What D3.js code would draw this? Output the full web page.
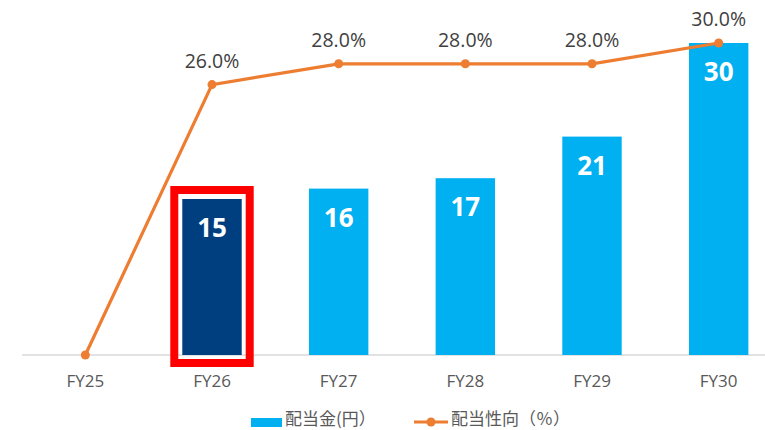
<!DOCTYPE html>
<html><head><meta charset="utf-8">
<script src="https://cdn.jsdelivr.net/npm/d3@7"></script>
<style>body{margin:0;background:#fff}svg{display:block;font-family:"Open Sans","Noto Sans CJK JP",sans-serif}</style>
</head><body><svg id="c" width="765" height="430"></svg>
<script>
const categories = ["FY25","FY26","FY27","FY28","FY29","FY30"];
const dividends = [null,15,16,17,21,30];
const payoutRatio = [0,26.0,28.0,28.0,28.0,30.0];
const highlightIndex = 1;
const legendLabels = ["配当金(円）","配当性向（％）"];

const svg = d3.select("#c");
const x = d3.scaleBand().domain(categories).range([22,782]).paddingInner(0.531).paddingOuter(0.2655);
const y = d3.scaleLinear().domain([0,30]).range([355,43]);

// axis
const xAxis = d3.axisBottom(x).tickSize(0).tickPadding(0);
const ax = svg.append("g").attr("transform","translate(0,355)").call(xAxis)
  .attr("font-size",null).attr("font-family",null);
ax.select(".domain").attr("stroke","#d9d9d9").attr("stroke-width",1.5).attr("d","M22,0H765");
ax.selectAll("text").style("font-size","17px").style("font-family","'Open Sans',sans-serif")
  .attr("fill","#595959").attr("dy",0).attr("y",32);

// bars
const barData = categories.map((c,i)=>({c,v:dividends[i],i})).filter(d=>d.v!=null);
svg.selectAll("rect.bar").data(barData).join("rect").attr("class","bar")
  .attr("x",d=>x(d.c)).attr("width",x.bandwidth())
  .attr("y",d=>y(d.v)).attr("height",d=>y(0)-y(d.v))
  .attr("fill",d=>d.i===highlightIndex?"#003f7f":"#00b0f0");

// highlight frame
const hc = categories[highlightIndex];
svg.append("rect").attr("x",x(hc)-8).attr("y",y(dividends[highlightIndex])-9)
  .attr("width",x.bandwidth()+16).attr("height",y(0)-y(dividends[highlightIndex])+17)
  .attr("fill","none").attr("stroke","#ff0000").attr("stroke-width",8);

// bar labels
svg.selectAll("text.bl").data(barData).join("text").attr("class","bl")
  .attr("x",d=>x(d.c)+x.bandwidth()/2).attr("y",d=>y(d.v)+38)
  .attr("text-anchor","middle").attr("fill","#fff").attr("font-weight","bold").attr("font-size",26)
  .text(d=>d.v);

// line
const cx = c=>x(c)+x.bandwidth()/2;
const lineData = categories.map((c,i)=>({c,v:payoutRatio[i]}));
svg.append("path").datum(lineData).attr("fill","none").attr("stroke","#ed7d31").attr("stroke-width",3.2)
  .attr("d",d3.line().x(d=>cx(d.c)).y(d=>y(d.v)));
svg.selectAll("circle.pt").data(lineData).join("circle").attr("class","pt")
  .attr("cx",d=>cx(d.c)).attr("cy",d=>y(d.v)).attr("r",4.5).attr("fill","#ed7d31");
svg.selectAll("text.ll").data(lineData.filter(d=>d.v>0)).join("text").attr("class","ll")
  .attr("x",d=>cx(d.c)).attr("y",d=>y(d.v)-17)
  .attr("text-anchor","middle").attr("fill","#404040").attr("font-size",19.5)
  .text(d=>d.v.toFixed(1)+"%");

// legend
const lg = svg.append("g");
lg.append("rect").attr("x",251).attr("y",418).attr("width",31).attr("height",9).attr("fill","#00b0f0");
lg.append("text").attr("x",285).attr("y",425).attr("font-size",17).attr("fill","#595959")
  .attr("font-family","'Noto Sans CJK JP',sans-serif").text(legendLabels[0]);
lg.append("line").attr("x1",414).attr("x2",448).attr("y1",422).attr("y2",422).attr("stroke","#ed7d31").attr("stroke-width",3.2);
lg.append("circle").attr("cx",431).attr("cy",422).attr("r",4.5).attr("fill","#ed7d31");
lg.append("text").attr("x",451).attr("y",425).attr("font-size",17).attr("fill","#595959")
  .attr("font-family","'Noto Sans CJK JP',sans-serif").text(legendLabels[1]);
</script></body></html>
